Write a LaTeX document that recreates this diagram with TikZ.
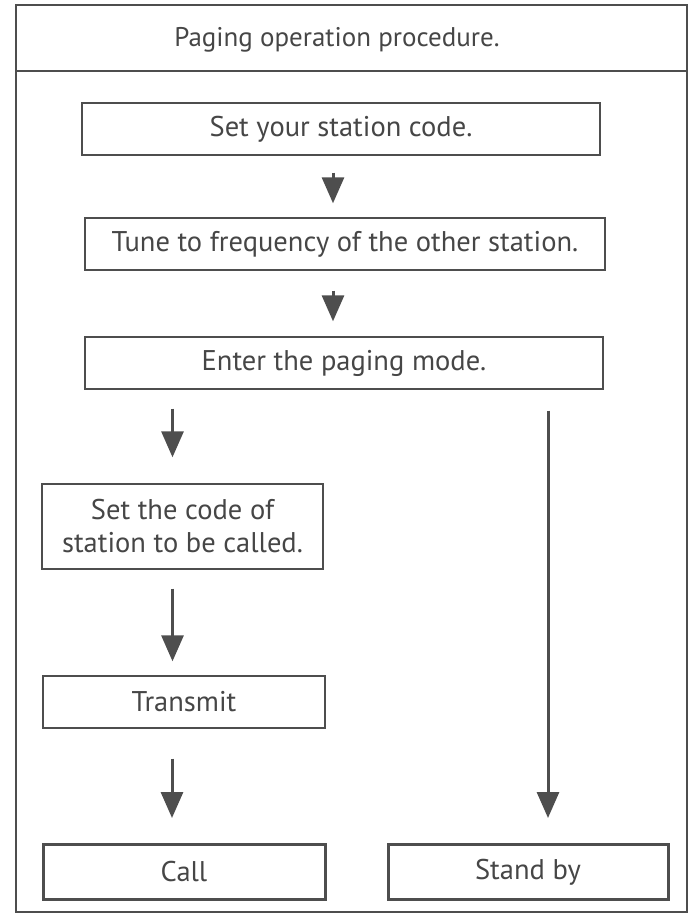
\documentclass[tikz,border=0pt]{standalone}
\usepackage{fontspec}
\setmainfont{PT Sans}
\usepackage{tikz}
\usetikzlibrary{arrows.meta,positioning,calc}
\definecolor{inkC}{RGB}{78,78,78}
\definecolor{textC}{RGB}{70,70,70}
\tikzset{
  stepbox/.style={rectangle, draw=inkC, line width=1.4pt, text=textC, align=center,
                  font=\fontsize{28.5}{33}\selectfont, inner sep=0pt},
  endbox/.style={stepbox, line width=3pt},
  arr/.style={-{Triangle[width=22pt,length=26pt]}, line width=3pt, draw=inkC},
}

\begin{document}
\begin{tikzpicture}[x=1pt,y=-1pt]
    \useasboundingbox (0,0) rectangle (692,916);
    \draw[inkC, line width=1.4pt] (16,5) rectangle (687,912);
    \draw[inkC, line width=1.4pt] (16,71) -- (687,71);
    \node[text=textC, font=\fontsize{27}{32}\selectfont] (title) at (337,40) {Paging operation procedure.};
    \node[stepbox, minimum width=518pt, minimum height=52pt] (own) at (341,129) {Set your station code.};
    \node[stepbox, minimum width=520pt, minimum height=52pt] (tune) at (345,244) {Tune to frequency of the other station.};
    \node[stepbox, minimum width=518pt, minimum height=52pt] (mode) at (344,363) {Enter the paging mode.};
    \node[stepbox, minimum width=281pt, minimum height=85pt] (target) at (182.5,526.5) {Set the code of\\station to be called.};
    \node[stepbox, minimum width=282pt, minimum height=52pt] (tx) at (184,702) {Transmit};
    \node[endbox, minimum width=282pt, minimum height=55pt] (call) at (184,872) {Call};
    \node[endbox, minimum width=280pt, minimum height=55pt] (standby) at (528,872) {Stand by};
    \draw[arr, shorten <=17pt, shorten >=14pt] ([xshift=-8pt]own.south) -- ([xshift=-8pt]own.south |- tune.north);
    \draw[arr, shorten <=20pt, shorten >=15pt] ([xshift=-12pt]tune.south) -- ([xshift=-12pt]tune.south |- mode.north);
    \draw[arr, shorten <=19pt, shorten >=26pt] ([xshift=-10pt]target.north |- mode.south) -- ([xshift=-10pt]target.north);
    \draw[arr, shorten <=19pt, shorten >=14pt] ([xshift=-10pt]target.south) -- ([xshift=-10pt]target.south |- tx.north);
    \draw[arr, shorten <=30pt, shorten >=25pt] ([xshift=-12pt]tx.south) -- ([xshift=-12pt]tx.south |- call.north);
    \draw[arr, shorten <=21pt, shorten >=25pt] ([xshift=20pt]standby.north |- mode.south) -- ([xshift=20pt]standby.north);
\end{tikzpicture}
\end{document}
